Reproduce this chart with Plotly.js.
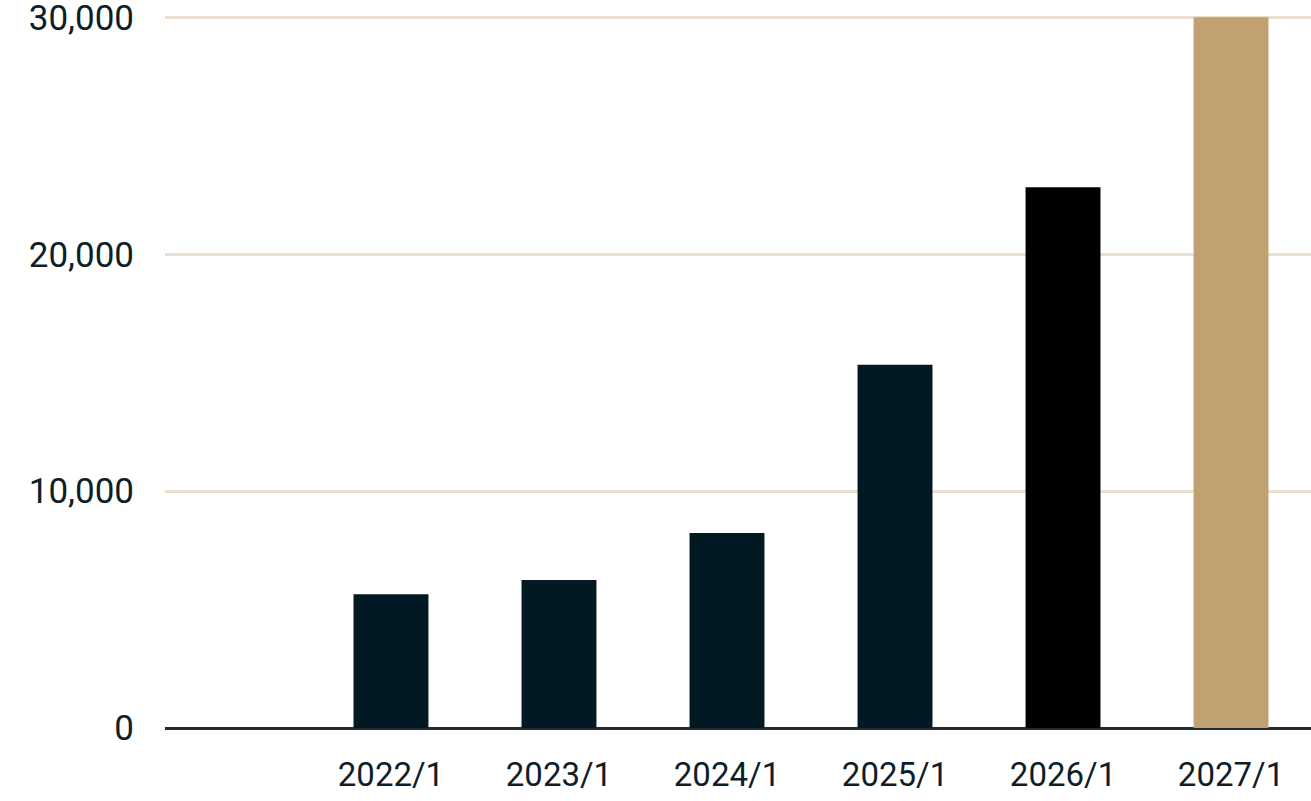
<!DOCTYPE html>
<html>
<head>
<meta charset="utf-8">
<script src="https://cdn.plot.ly/plotly-3.0.1.min.js"></script>
<style>
  html, body { margin: 0; padding: 0; background: #ffffff; }
  #chart { width: 1311px; height: 801px; }
</style>
</head>
<body>
<div id="chart"></div>
<script>
const categories = ['2022/1', '2023/1', '2024/1', '2025/1', '2026/1', '2027/1'];
const values = [5650, 6250, 8230, 15330, 22830, 30000];
const barColors = ['#021924', '#021924', '#021924', '#021924', '#000000', '#c1a172'];
const yTickVals = [0, 10000, 20000, 30000];
const yTickText = ['0', '10,000', '20,000', '30,000'];

const trace = {
  type: 'bar',
  x: categories,
  y: values,
  width: 0.446,
  marker: { color: barColors, line: { width: 0 } },
  hoverinfo: 'x+y'
};

const layout = {
  width: 1311,
  height: 801,
  margin: { l: 165, r: 0, t: 15, b: 73 },
  paper_bgcolor: '#ffffff',
  plot_bgcolor: '#ffffff',
  showlegend: false,
  font: { family: 'Roboto, "Noto Sans", sans-serif', color: '#0d1e28', size: 34 },
  xaxis: {
    type: 'category',
    range: [-1.345, 5.476],
    showgrid: false,
    zeroline: false,
    showline: false,
    ticks: '',
    ticklabelstandoff: 24,
    tickfont: { size: 33, color: '#0d1e28' },
    fixedrange: true
  },
  yaxis: {
    range: [0, 30100],
    tickvals: yTickVals,
    ticktext: yTickText,
    showgrid: true,
    gridcolor: '#ebe0cf',
    gridwidth: 3,
    zeroline: true,
    zerolinecolor: '#1c2b34',
    zerolinewidth: 3,
    showline: false,
    ticks: '',
    ticklabelstandoff: 30,
    ticklabeloverflow: 'allow',
    tickfont: { size: 35, color: '#0d1e28' },
    fixedrange: true
  },
  bargap: 0.5
};

Plotly.newPlot('chart', [trace], layout, { displayModeBar: false, staticPlot: true });
</script>
</body>
</html>
